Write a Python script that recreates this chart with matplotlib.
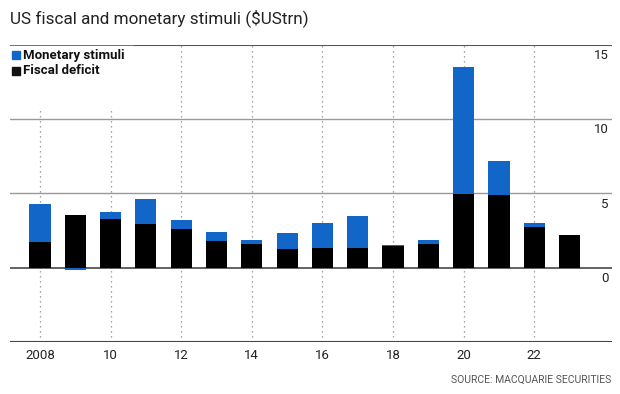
import numpy as np
import matplotlib.pyplot as plt
import matplotlib.transforms as mtransforms

years = np.arange(2008, 2024)
fiscal = [1.74, 3.58, 3.29, 2.95, 2.59, 1.80, 1.58, 1.24, 1.33, 1.31, 1.46, 1.62, 4.98, 4.89, 2.72, 2.21]
monetary = [2.52, -0.14, 0.49, 1.71, 0.59, 0.61, 0.27, 1.10, 1.69, 2.14, 0.07, 0.25, 8.51, 2.29, 0.30, -0.05]
xticks = [2008, 2010, 2012, 2014, 2016, 2018, 2020, 2022]
xticklabels = ["2008", "10", "12", "14", "16", "18", "20", "22"]
yticks = [0, 5, 10, 15]

BLUE = "#1166c8"
FONT = "Roboto"

fig = plt.figure(figsize=(6.2, 3.94), dpi=100)
ax = fig.add_axes([0.016, 0.132, 0.971, 0.754])
ax.set_xlim(2007.15, 2024.2)
ax.set_ylim(-5, 15)

# dotted year guides
for x in xticks:
    ax.plot([x, x], [-5, 15], ls=(0, (1, 3)), color="#888", lw=0.9, zorder=1)

# horizontal grid
ax.axhline(15, color="#555", lw=1.5, zorder=2)
for y in (5, 10):
    ax.axhline(y, color="#999", lw=1.0, zorder=2)
ax.axhline(0, color="#555", lw=1.3, zorder=2)
ax.axhline(-5, color="#444", lw=1.5, zorder=2)

mon = np.array(monetary)
fis = np.array(fiscal)
bottoms = np.where(mon >= 0, fis, 0)
ax.bar(years, fis, width=0.6, color="black", zorder=3)
ax.bar(years, mon, width=0.6, bottom=bottoms, color=BLUE, zorder=3)

# right-hand value labels, sitting just under each grid line
trans = mtransforms.blended_transform_factory(ax.transAxes, ax.transData)
trans = trans + mtransforms.ScaledTranslation(0, -3 / 72, fig.dpi_scale_trans)
for y in yticks:
    ax.text(0.995, y, str(y), transform=trans, ha="right", va="top",
            fontsize=9.5, family=FONT, color="#222")

ax.set_xticks(xticks)
ax.set_xticklabels(xticklabels, family=FONT, fontsize=9.5, color="#222")
ax.tick_params(axis="x", length=0, pad=5)
ax.set_yticks([])
for s in ax.spines.values():
    s.set_visible(False)

# legend box (white, covers guide lines)
leg_bg = plt.Rectangle((0.0, 0.79), 0.205, 0.205, transform=ax.transAxes,
                       color="white", zorder=4)
ax.add_patch(leg_bg)
fig.patches.append(plt.Rectangle((12 / 620, 1 - 59 / 394), 8 / 620, 8 / 394,
                                 transform=fig.transFigure, color=BLUE, zorder=5))
fig.patches.append(plt.Rectangle((12 / 620, 1 - 75 / 394), 8 / 620, 8 / 394,
                                 transform=fig.transFigure, color="#111", zorder=5))
fig.text(23 / 620, 1 - 55 / 394, "Monetary stimuli", family=FONT, fontweight="bold",
         fontsize=9.5, va="center", ha="left", color="#111")
fig.text(23 / 620, 1 - 71 / 394, "Fiscal deficit", family=FONT, fontweight="bold",
         fontsize=9.5, va="center", ha="left", color="#111")

fig.text(10 / 620, 1 - 18 / 394, "US fiscal and monetary stimuli ($UStrn)",
         family=FONT, fontsize=12.3, va="center", ha="left", color="#222")
fig.text(611 / 620, 1 - 380 / 394, "SOURCE: MACQUARIE SECURITIES",
         family=FONT, fontsize=7.5, va="center", ha="right", color="#555")

fig.savefig("out.png", dpi=100)
